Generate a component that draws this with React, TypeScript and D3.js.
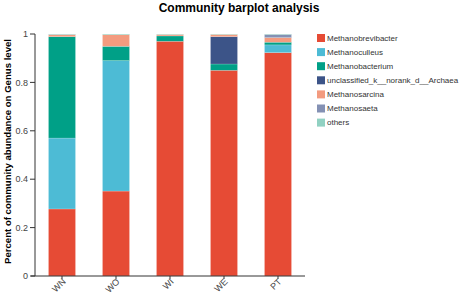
import React from "react";
import * as d3 from "d3";

const samples = ["WN", "WO", "WI", "WE", "PT"];
const genera = [
  "Methanobrevibacter",
  "Methanoculleus",
  "Methanobacterium",
  "unclassified_k__norank_d__Archaea",
  "Methanosarcina",
  "Methanosaeta",
  "others",
];
const colors = ["#E64B35", "#4DBBD5", "#00A087", "#3C5488", "#F39B7F", "#8491B4", "#91D1C2"];

const methanobrevibacter = [0.277, 0.351, 0.970, 0.850, 0.923];
const methanoculleus = [0.293, 0.539, 0.0, 0.0, 0.032];
const methanobacterium = [0.419, 0.059, 0.022, 0.026, 0.011];
const unclassifiedArchaea = [0.0, 0.0, 0.0, 0.113, 0.0];
const methanosarcina = [0.008, 0.048, 0.006, 0.009, 0.019];
const methanosaeta = [0.001, 0.0, 0.0, 0.0, 0.013];
const others = [0.002, 0.003, 0.002, 0.002, 0.002];

const yTicks = [0, 0.2, 0.4, 0.6, 0.8, 1];

const W = 464;
const H = 294;
const margin = { left: 35, right: 159, top: 34, bottom: 18 };

export default function App() {
  const series = [
    methanobrevibacter,
    methanoculleus,
    methanobacterium,
    unclassifiedArchaea,
    methanosarcina,
    methanosaeta,
    others,
  ];
  const rows = samples.map((s, i) => {
    const r: any = { sample: s };
    genera.forEach((g, j) => (r[g] = series[j][i]));
    return r;
  });
  const stack = d3.stack<any>().keys(genera)(rows);
  const x = d3
    .scaleBand()
    .domain(samples)
    .range([margin.left, W - margin.right])
    .paddingInner(0.5)
    .paddingOuter(0.25);
  const y = d3.scaleLinear().domain([0, 1]).range([H - margin.bottom, margin.top]);
  const font = "Arial, 'Liberation Sans', Helvetica, sans-serif";
  const x0 = margin.left;
  const y0 = H - margin.bottom;

  return (
    <svg
      width={W}
      height={H}
      style={{ position: "absolute", left: 0, top: 0, background: "#fff" }}
      fontFamily={font}
    >
      <text x={239} y={12} textAnchor="middle" fontSize={12} fontWeight="bold" fill="#000">
        Community barplot analysis
      </text>
      {stack.map((layer, li) => (
        <g key={genera[li]}>
          {layer.map((d, i) => {
            const h = y(d[0]) - y(d[1]);
            if (h <= 0) return null;
            return (
              <rect
                key={i}
                x={x(samples[i])}
                y={y(d[1])}
                width={x.bandwidth()}
                height={h}
                fill={colors[li]}
                stroke="#ffffff"
                strokeOpacity={0.35}
                strokeWidth={0.5}
              />
            );
          })}
        </g>
      ))}
      {/* y axis */}
      <line x1={x0} x2={x0} y1={y(1)} y2={y0} stroke="#333" strokeWidth={1} />
      {yTicks.map((t) => (
        <g key={t}>
          <line x1={x0 - 5} x2={x0} y1={y(t)} y2={y(t)} stroke="#333" strokeWidth={1} />
          <text
            x={x0 - 7}
            y={y(t)}
            dy="0.35em"
            textAnchor="end"
            fontSize={9}
            fill="#444"
          >
            {t === 0 || t === 1 ? String(t) : t.toFixed(1)}
          </text>
        </g>
      ))}
      {/* x axis */}
      <line x1={x0 - 4} x2={W - margin.right} y1={y0} y2={y0} stroke="#333" strokeWidth={1} />
      {samples.map((s) => {
        const cx = (x(s) as number) + x.bandwidth() / 2;
        return (
          <g key={s}>
            <line x1={cx} x2={cx} y1={y0} y2={y0 + 3} stroke="#333" strokeWidth={1} />
            <text
              transform={`translate(${cx + 2},${y0 + 4}) rotate(-45)`}
              textAnchor="end"
              dy="0.35em"
              fontSize={9}
              fill="#444"
            >
              {s}
            </text>
          </g>
        );
      })}
      <text
        transform={`translate(11,151.5) rotate(-90)`}
        textAnchor="middle"
        fontSize={9.6}
        fontWeight="bold"
        fill="#000"
      >
        Percent of community abundance on Genus level
      </text>
      {/* legend */}
      {genera.map((g, i) => (
        <g key={g} transform={`translate(317,${34 + i * 14.1})`}>
          <rect width={8} height={8} fill={colors[i]} />
          <text x={10} y={4} dy="0.35em" fontSize={8} fill="#333">
            {g}
          </text>
        </g>
      ))}
    </svg>
  );
}
